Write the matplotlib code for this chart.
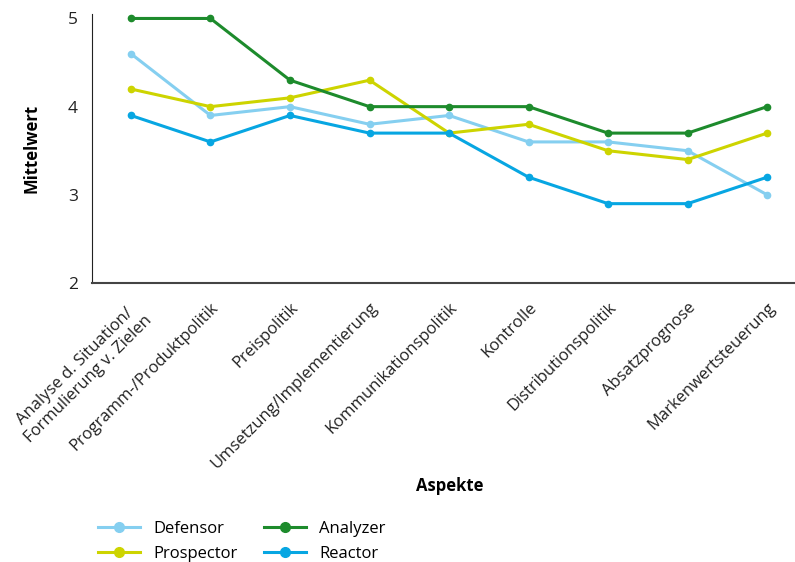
import numpy as np
import matplotlib
matplotlib.use('Agg')
import matplotlib.pyplot as plt
from matplotlib.lines import Line2D

plt.rcParams['font.family'] = ['Open Sans', 'DejaVu Sans']

# data
aspekte = ['Analyse d. Situation/\nFormulierung v. Zielen', 'Programm-/Produktpolitik',
           'Preispolitik', 'Umsetzung/Implementierung', 'Kommunikationspolitik',
           'Kontrolle', 'Distributionspolitik', 'Absatzprognose', 'Markenwertsteuerung']
defensor = [4.6, 3.9, 4.0, 3.8, 3.9, 3.6, 3.6, 3.5, 3.0]
prospector = [4.2, 4.0, 4.1, 4.3, 3.7, 3.8, 3.5, 3.4, 3.7]
analyzer = [5.0, 5.0, 4.3, 4.0, 4.0, 4.0, 3.7, 3.7, 4.0]
reactor = [3.9, 3.6, 3.9, 3.7, 3.7, 3.2, 2.9, 2.9, 3.2]

series = [('Defensor', defensor, '#85cff0'), ('Prospector', prospector, '#cdd400'),
          ('Analyzer', analyzer, '#1d8b2c'), ('Reactor', reactor, '#07a6e2')]

fig = plt.figure(figsize=(7.95, 5.62), dpi=100)
ax = fig.add_axes([0.1157, 0.4964, 0.8843, 0.4786])

x = np.arange(len(aspekte))
handles = []
for name, vals, col in series:
    ax.plot(x, vals, color=col, lw=2.2, marker='o', ms=4.5)
    handles.append(Line2D([], [], color=col, lw=2.2, marker='o', ms=7, label=name))

ax.set_xlim(-0.49, 8.35)
ax.set_ylim(2, 5.05)
ax.set_yticks([2, 3, 4, 5])
ax.set_xticks(x)
ax.set_xticklabels(aspekte, rotation=45, ha='right', rotation_mode='anchor',
                   fontsize=12, multialignment='center', color='#222222')
ax.tick_params(axis='y', labelsize=12.5, length=0, pad=10, labelcolor='#222222')
ax.tick_params(axis='x', length=0, pad=12)
for s in ['top', 'right']:
    ax.spines[s].set_visible(False)
ax.spines['left'].set_color('#222222')
ax.spines['bottom'].set_color('#444444')
ax.spines['bottom'].set_linewidth(1.5)

ax.set_ylabel('Mittelwert', fontsize=12, fontweight='bold', labelpad=20)
fig.text(0.566, 0.126, 'Aspekte', fontsize=12, fontweight='bold', ha='center')

fig.legend(handles=handles, ncol=2, loc='lower left', bbox_to_anchor=(0.105, -0.027),
           frameon=False, fontsize=12, handlelength=2.5, columnspacing=1.6,
           labelspacing=0.55, handletextpad=0.8)

fig.savefig('out.png', dpi=100)
